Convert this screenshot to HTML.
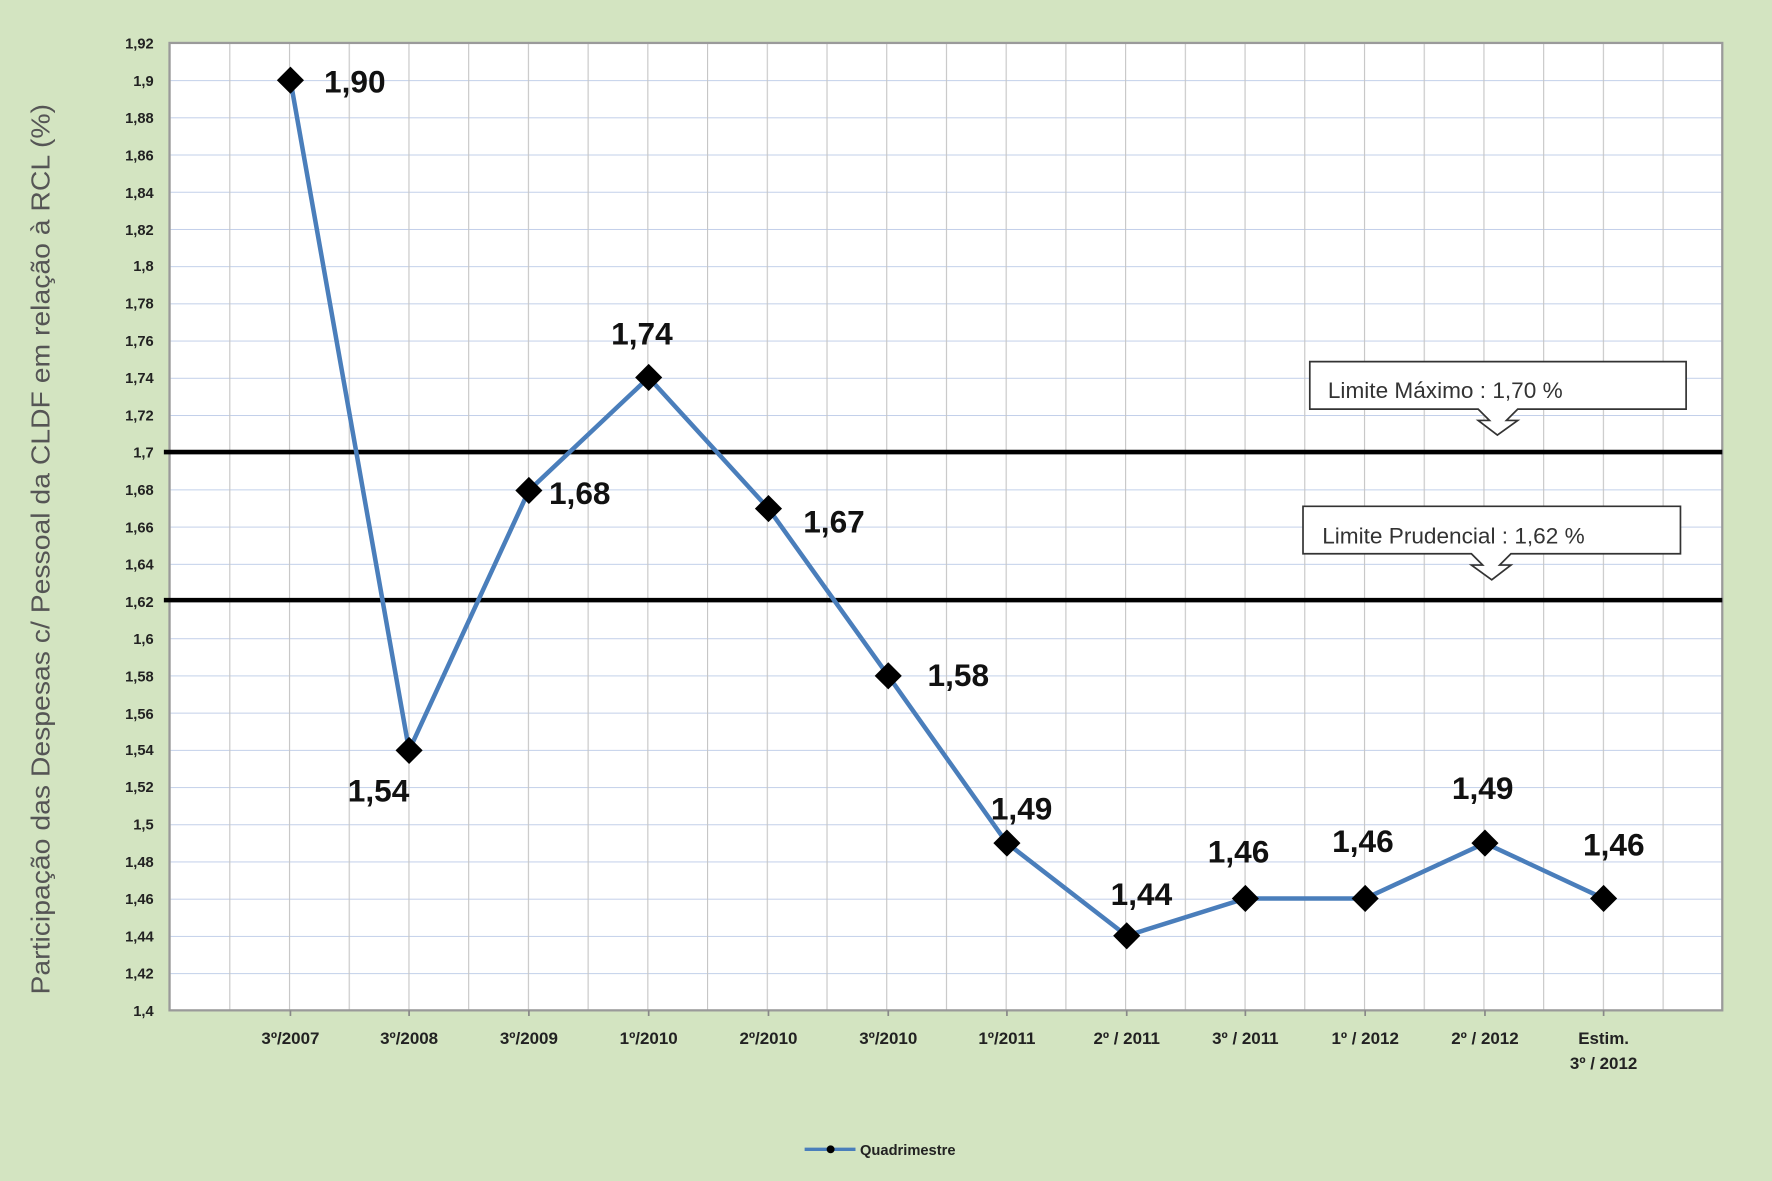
<!DOCTYPE html>
<html><head><meta charset="utf-8"><style>html,body{margin:0;padding:0;background:#d3e4c1}svg{display:block}</style></head>
<body>
<svg width="1772" height="1181" viewBox="0 0 1568 1045" preserveAspectRatio="none" xmlns="http://www.w3.org/2000/svg" font-family="Liberation Sans, sans-serif">
<defs>
<pattern id="g" patternUnits="userSpaceOnUse" x="150" y="38" width="52.846" height="32.923">
<line x1="0" y1="0" x2="52.846" y2="0" stroke="#b9c9e6" stroke-width="1.5"/>
<line x1="0" y1="0" x2="0" y2="32.923" stroke="#c6c6c6" stroke-width="2"/>
</pattern>
</defs>
<rect width="1568" height="1045" fill="#d3e4c1"/>
<rect x="150" y="38" width="1374" height="856" fill="#fff"/>
<rect x="150" y="38" width="1374" height="856" fill="url(#g)"/>
<rect x="150" y="38" width="1374" height="856" fill="none" stroke="#9a9a9a" stroke-width="2"/>
<g stroke="#888" stroke-width="1.5">
<line x1="257" y1="894" x2="257" y2="899"/><line x1="362" y1="894" x2="362" y2="899"/><line x1="468" y1="894" x2="468" y2="899"/><line x1="574" y1="894" x2="574" y2="899"/><line x1="680" y1="894" x2="680" y2="899"/><line x1="786" y1="894" x2="786" y2="899"/><line x1="891" y1="894" x2="891" y2="899"/><line x1="997" y1="894" x2="997" y2="899"/><line x1="1102" y1="894" x2="1102" y2="899"/><line x1="1208" y1="894" x2="1208" y2="899"/><line x1="1314" y1="894" x2="1314" y2="899"/><line x1="1419" y1="894" x2="1419" y2="899"/>
</g>
<g font-size="13" font-weight="bold" fill="#222" text-anchor="end">
<text x="136" y="43">1,92</text><text x="136" y="76">1,9</text><text x="136" y="109">1,88</text><text x="136" y="142">1,86</text><text x="136" y="175">1,84</text><text x="136" y="208">1,82</text><text x="136" y="240">1,8</text><text x="136" y="273">1,78</text><text x="136" y="306">1,76</text><text x="136" y="339">1,74</text><text x="136" y="372">1,72</text><text x="136" y="405">1,7</text><text x="136" y="438">1,68</text><text x="136" y="471">1,66</text><text x="136" y="504">1,64</text><text x="136" y="537">1,62</text><text x="136" y="570">1,6</text><text x="136" y="603">1,58</text><text x="136" y="636">1,56</text><text x="136" y="668">1,54</text><text x="136" y="701">1,52</text><text x="136" y="734">1,5</text><text x="136" y="767">1,48</text><text x="136" y="800">1,46</text><text x="136" y="833">1,44</text><text x="136" y="866">1,42</text><text x="136" y="899">1,4</text>
</g>
<g font-size="15" font-weight="bold" fill="#222" text-anchor="middle">
<text x="257" y="924">3º/2007</text><text x="362" y="924">3º/2008</text><text x="468" y="924">3º/2009</text><text x="574" y="924">1º/2010</text><text x="680" y="924">2º/2010</text><text x="786" y="924">3º/2010</text><text x="891" y="924">1º/2011</text><text x="997" y="924">2º / 2011</text><text x="1102" y="924">3º / 2011</text><text x="1208" y="924">1º / 2012</text><text x="1314" y="924">2º / 2012</text><text x="1419" y="924">Estim.</text><text x="1419" y="946">3º / 2012</text>
</g>
<text transform="translate(44,486) rotate(-90)" font-size="23" fill="#555" text-anchor="middle" textLength="788" lengthAdjust="spacingAndGlyphs">Participação das Despesas c/ Pessoal da CLDF em relação à RCL   (%)</text>
<line x1="145" y1="400" x2="1524" y2="400" stroke="#000" stroke-width="4"/>
<line x1="145" y1="531" x2="1524" y2="531" stroke="#000" stroke-width="4"/>
<polyline points="257,71 362,664 468,434 574,334 680,450 786,598 891,746 997,828 1102,795 1208,795 1314,746 1419,795" fill="none" stroke="#4a7ebb" stroke-width="4"/>
<g fill="#000">
<path d="M257 59l12 12-12 12-12-12z"/><path d="M362 652l12 12-12 12-12-12z"/><path d="M468 422l12 12-12 12-12-12z"/><path d="M574 322l12 12-12 12-12-12z"/><path d="M680 438l12 12-12 12-12-12z"/><path d="M786 586l12 12-12 12-12-12z"/><path d="M891 734l12 12-12 12-12-12z"/><path d="M997 816l12 12-12 12-12-12z"/><path d="M1102 783l12 12-12 12-12-12z"/><path d="M1208 783l12 12-12 12-12-12z"/><path d="M1314 734l12 12-12 12-12-12z"/><path d="M1419 783l12 12-12 12-12-12z"/>
</g>
<g font-size="28" font-weight="bold" fill="#111" text-anchor="middle">
<text x="314" y="82">1,90</text><text x="335" y="709">1,54</text><text x="513" y="446">1,68</text><text x="568" y="305">1,74</text><text x="738" y="471">1,67</text><text x="848" y="607">1,58</text><text x="904" y="725">1,49</text><text x="1010" y="801">1,44</text><text x="1096" y="763">1,46</text><text x="1206" y="754">1,46</text><text x="1312" y="707">1,49</text><text x="1428" y="757">1,46</text>
</g>
<g fill="#fff" stroke="#333" stroke-width="1.5">
<path d="M1159 320H1492V362H1343L1333 372 1343 372 1325 385 1308 372 1318 372 1308 362H1159Z"/>
<path d="M1153 448H1487V490H1337L1327 500 1337 500 1320 513 1302 500 1312 500 1302 490H1153Z"/>
</g>
<text x="1175" y="352" font-size="20" fill="#333">Limite Máximo  :  1,70 %</text>
<text x="1170" y="481" font-size="20" fill="#333">Limite Prudencial  : 1,62 %</text>
<line x1="712" y1="1017" x2="757" y2="1017" stroke="#4a7ebb" stroke-width="3"/>
<circle cx="735" cy="1017" r="3.5" fill="#000"/>
<text x="761" y="1022" font-size="13" font-weight="bold" fill="#222">Quadrimestre</text>
</svg>
</body></html>
